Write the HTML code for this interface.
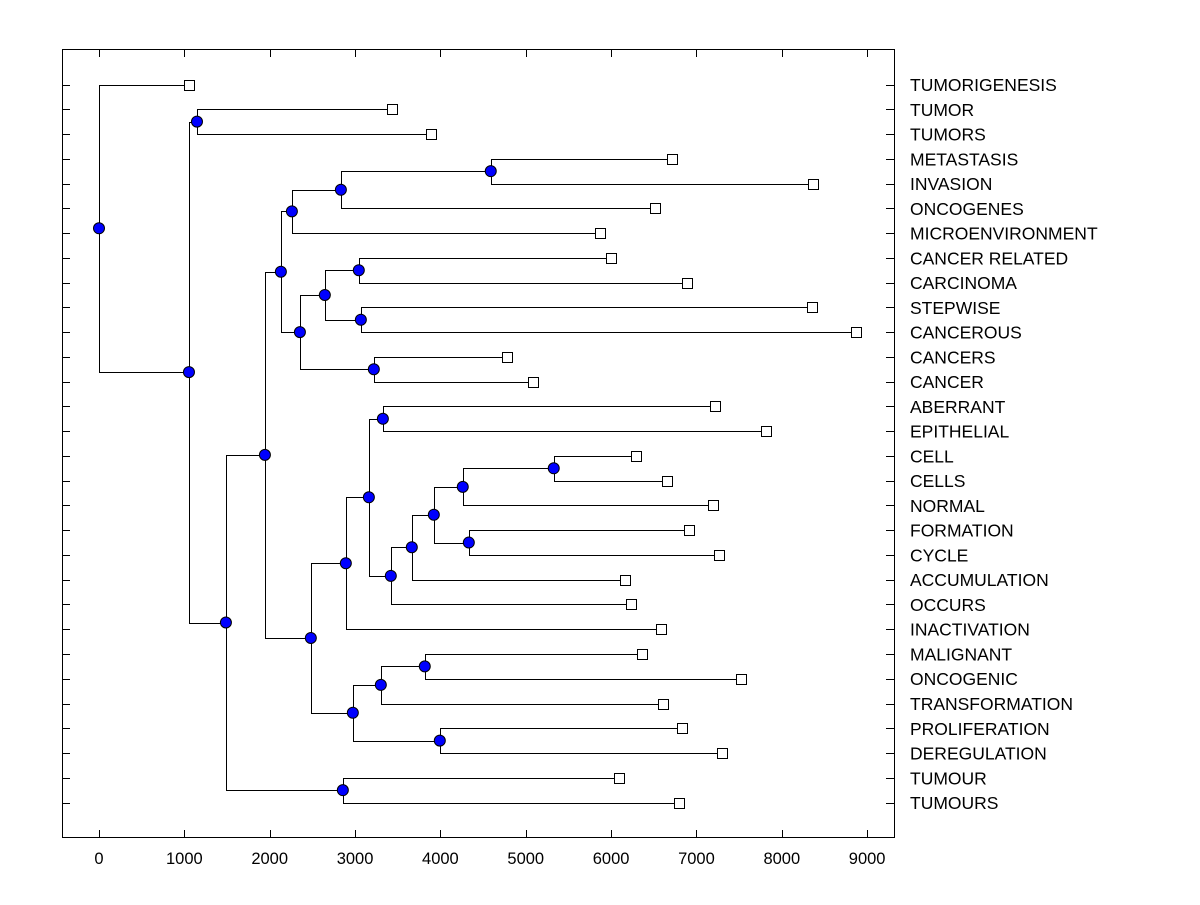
<!DOCTYPE html>
<html><head><meta charset="utf-8"><style>
html,body{margin:0;padding:0;background:#fff}
svg text{font-family:"Liberation Sans",Arial,sans-serif}
</style></head><body>
<svg id="chart" width="1200" height="900" viewBox="0 0 1200 900" xmlns="http://www.w3.org/2000/svg">
<rect x="0" y="0" width="1200" height="900" fill="#fff"/>
<g id="ticks"></g>
<g id="links"></g>
<g id="marks"></g>
<rect x="62.5" y="49.5" width="832" height="788" fill="none" stroke="#000" stroke-width="1"/>
</svg>
<script>
const leafLabels = ["TUMORIGENESIS","TUMOR","TUMORS","METASTASIS","INVASION","ONCOGENES","MICROENVIRONMENT","CANCER RELATED","CARCINOMA","STEPWISE","CANCEROUS","CANCERS","CANCER","ABERRANT","EPITHELIAL","CELL","CELLS","NORMAL","FORMATION","CYCLE","ACCUMULATION","OCCURS","INACTIVATION","MALIGNANT","ONCOGENIC","TRANSFORMATION","PROLIFERATION","DEREGULATION","TUMOUR","TUMOURS"];
const leafHeights = [1054,3431,3888,6710,8361,6511,5867,5995,6885,8349,8864,4778,5082,7213,7810,6288,6651,7190,6909,7260,6159,6230,6581,6358,7518,6604,6827,7295,6089,6792];
const mergeLeft = [1,3,31,32,7,9,34,11,36,33,13,15,41,18,42,44,45,40,47,23,49,26,50,48,39,28,54,30,0];
const mergeRight = [2,4,5,6,8,10,35,12,37,38,14,16,17,19,43,20,21,46,22,24,25,27,51,52,53,29,55,56,57];
const mergeHeights = [1148,4590,2834,2260,3044,3068,2646,3220,2354,2131,3326,5328,4262,4333,3923,3665,3419,3162,2892,3817,3302,3993,2974,2482,1944,2857,1487,1054,0];
const xTickValues = [0,1000,2000,3000,4000,5000,6000,7000,8000,9000];

const NS="http://www.w3.org/2000/svg";
function xScale(v){return 99+v*0.08535;}
function yScale(i){return 84.5+i*24.76;}
function mk(tag,attrs,parent){const e=document.createElementNS(NS,tag);for(const k in attrs)e.setAttribute(k,attrs[k]);parent.appendChild(e);return e;}

const ticks=document.getElementById('ticks'),links=document.getElementById('links'),marks=document.getElementById('marks');
xTickValues.forEach(v=>{
  const x=Math.round(xScale(v))+0.5;
  let t=mk('line',{x1:x,y1:838,x2:x,y2:830,stroke:'#000'},ticks);
  
  
  t=mk('line',{x1:x,y1:49,x2:x,y2:57,stroke:'#000'},ticks);
  
  
  const l=mk('text',{x:xScale(v),y:864,'font-size':16.5,'text-anchor':'middle',fill:'#000'},ticks);
  l.textContent=v;
  
  
});
const nodeX={},nodeY={};
leafLabels.forEach((lab,i)=>{
  const y=Math.round(yScale(i))+0.5;
  nodeX[i]=leafHeights[i];nodeY[i]=yScale(i);
  let t=mk('line',{x1:62,y1:y,x2:70,y2:y,stroke:'#000'},ticks);
  
  
  t=mk('line',{x1:886,y1:y,x2:894,y2:y,stroke:'#000'},ticks);
  
  
  const l=mk('text',{x:910,y:yScale(i)+6.5,'font-size':17.5,fill:'#000'},ticks);
  l.textContent=lab;
  
  
});
const n=leafLabels.length;
mergeHeights.forEach((h,k)=>{
  const id=n+k,a=mergeLeft[k],b=mergeRight[k];
  nodeX[id]=h;nodeY[id]=(nodeY[a]+nodeY[b])/2;
});
function px(v){return Math.round(v)+0.5;}
mergeHeights.forEach((h,k)=>{
  const id=n+k;const x=px(xScale(h)),y=px(nodeY[id]);
  [mergeLeft[k],mergeRight[k]].forEach(c=>{
    const cy=px(nodeY[c]),cx=px(xScale(nodeX[c]));
    const p=mk('polyline',{points:`${x},${y} ${x},${cy} ${cx},${cy}`,fill:'none',stroke:'#000','stroke-width':1},links);
    
    
  });
});
leafLabels.forEach((lab,i)=>{
  const r=mk('rect',{x:px(xScale(leafHeights[i]))-5,y:px(yScale(i))-5,width:10,height:10,fill:'#fff',stroke:'#000'},marks);
  
  
});
mergeHeights.forEach((h,k)=>{
  const id=n+k;
  const c=mk('circle',{cx:xScale(h),cy:nodeY[id],r:5.5,fill:'#0000ff',stroke:'#000','stroke-width':1},marks);
  
  
});
</script>
</body></html>
